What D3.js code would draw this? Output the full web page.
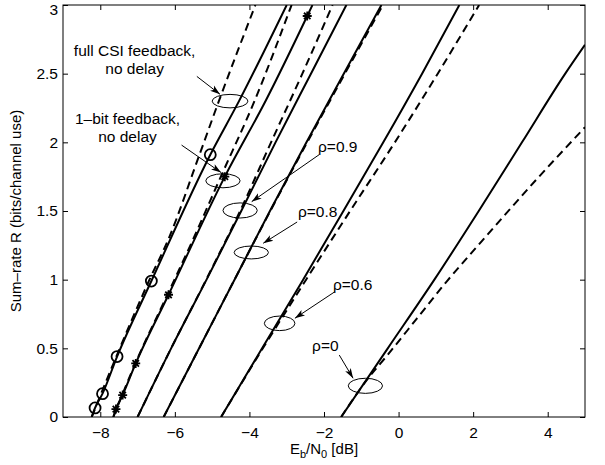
<!DOCTYPE html>
<html>
<head>
<meta charset="utf-8">
<title>Sum-rate vs Eb/N0</title>
<script src="https://cdn.jsdelivr.net/npm/d3@7"></script>
<style>
body {
    margin: 0;
    background-color: #fff;
}
svg text {
    font-family: "Liberation Sans", Arial, Helvetica, sans-serif;
    fill: #000;
}
.curve {
    fill: none;
    stroke: #000;
    stroke-width: 2px;
}
.dash {
    stroke-dasharray: 8, 5;
}
</style>
</head>

<body>
<div id="graphic"></div>
<script>

// curves: [Eb/N0 (dB), sum-rate]
var fullSolid  = [[-8.23,0],[-8.14,0.066],[-7.94,0.17],[-7.55,0.44],[-6.63,0.99],[-5.05,1.91],[-4.28,2.3],[-3.0,3]];
var fullDashed = [[-8.23,0],[-7.57,0.44],[-6.68,1.0],[-6.18,1.29],[-5.34,1.91],[-4.82,2.3],[-3.84,3]];
var bitSolid   = [[-7.65,0],[-7.58,0.058],[-7.40,0.16],[-7.05,0.39],[-6.17,0.89],[-4.66,1.75],[-3.55,2.31],[-2.45,2.92],[-2.31,3]];
var bitDashed  = [[-7.65,0],[-7.06,0.39],[-6.2,0.89],[-5.5,1.3],[-4.8,1.73],[-3.85,2.31],[-2.87,3]];
var r9Solid    = [[-7.0,0],[-6.1,0.5],[-5.15,1.0],[-4.22,1.5],[-3.3,2.0],[-2.35,2.5],[-1.40,3]];
var r9Dashed   = [[-7.0,0],[-6.1,0.5],[-5.16,1.0],[-4.25,1.5],[-3.42,2.0],[-2.58,2.5],[-1.77,3]];
var r8Solid    = [[-6.3,0],[-5.35,0.5],[-4.4,1.0],[-3.45,1.5],[-2.47,2.0],[-1.47,2.5],[-0.46,3]];
var r8Dashed   = [[-6.3,0],[-5.35,0.5],[-4.4,1.0],[-3.44,1.5],[-2.45,2.0],[-1.44,2.5],[-0.42,3]];
var r6Solid    = [[-4.76,0],[-3.66,0.5],[-2.56,1.0],[-1.48,1.5],[-0.41,2.0],[0.63,2.5],[1.63,3]];
var r6Dashed   = [[-4.76,0],[-3.64,0.5],[-2.48,1.0],[-1.3,1.5],[-0.1,2.0],[1.05,2.5],[2.16,3]];
var r0Solid    = [[-1.54,0],[-0.29,0.5],[0.96,1.0],[2.15,1.5],[3.31,2.0],[4.47,2.5],[5,2.71]];
var r0Dashed   = [[-1.54,0],[-0.85,0.27],[-0.3,0.45],[0.5,0.72],[1.3,0.99],[2.07,1.23],[3.7,1.73],[5,2.11]];

// marker points
var circleMarks = [[-8.14,0.066],[-7.94,0.17],[-7.55,0.44],[-6.63,0.99],[-5.05,1.91]];
var starMarks   = [[-7.58,0.058],[-7.40,0.16],[-7.05,0.39],[-6.17,0.89],[-4.66,1.75],[-2.45,2.92]];

var xTicks = [-8, -6, -4, -2, 0, 2, 4];
var yTicks = [0, 0.5, 1, 1.5, 2, 2.5, 3];

var xTitle = ["E", "b", "/N", "0", " [dB]"];
var yTitle = "Sum\u2013rate R (bits/channel use)";

// annotations, in data units
var notes = [
    {lines: ["full CSI feedback,", "no delay"], tx: -7.08, ty: 2.63, anchor: "middle",
     from: [-5.41, 2.48], to: [-4.79, 2.35], ell: [-4.52, 2.30, 0.48, 0.049]},
    {lines: ["1\u2013bit feedback,", "no delay"], tx: -7.27, ty: 2.13, anchor: "middle",
     from: [-5.82, 1.98], to: [-4.76, 1.78], ell: [-4.71, 1.72, 0.46, 0.051]},
    {lines: ["\u03c1=0.9"], tx: -2.16, ty: 1.93, anchor: "start",
     from: [-2.13, 1.91], to: [-3.94, 1.568], ell: [-4.25, 1.504, 0.46, 0.055]},
    {lines: ["\u03c1=0.8"], tx: -2.70, ty: 1.456, anchor: "start",
     from: [-2.72, 1.42], to: [-3.63, 1.265], ell: [-3.95, 1.198, 0.46, 0.047]},
    {lines: ["\u03c1=0.6"], tx: -1.76, ty: 0.925, anchor: "start",
     from: [-1.71, 0.912], to: [-2.78, 0.719], ell: [-3.19, 0.682, 0.41, 0.053]},
    {lines: ["\u03c1=0"], tx: -2.32, ty: 0.48, anchor: "start",
     from: [-1.59, 0.451], to: [-1.22, 0.282], ell: [-0.89, 0.227, 0.46, 0.055]}
];

var w = 605;
var h = 465;
var margin = {top: 5, right: 20, bottom: 48, left: 63};
var iw = w - margin.left - margin.right;
var ih = h - margin.top - margin.bottom;

var svg = d3.select("#graphic")
    .append("svg")
    .attr("width", w)
    .attr("height", h);

var g = svg.append("g")
    .attr("transform", "translate(" + margin.left + "," + margin.top + ")");

var x = d3.scaleLinear().domain([-9, 5]).range([0, iw]);
var y = d3.scaleLinear().domain([0, 3]).range([ih, 0]);

g.append("clipPath")
    .attr("id", "plotclip")
    .append("rect")
    .attr("width", iw)
    .attr("height", ih);

// axes, ticks pointing inward on all four sides
var fmt = d3.format("");
var tickLen = 5;

g.append("g")
    .attr("class", "axis")
    .attr("transform", "translate(0," + ih + ")")
    .call(d3.axisBottom(x).tickValues(xTicks).tickFormat(fmt)
        .tickSizeInner(-tickLen).tickSizeOuter(0).tickPadding(10));

g.append("g")
    .attr("class", "axis")
    .call(d3.axisTop(x).tickValues(xTicks).tickFormat("")
        .tickSizeInner(-tickLen).tickSizeOuter(0));

var yAxis = g.append("g")
    .attr("class", "axis")
    .call(d3.axisLeft(y).tickValues(yTicks).tickFormat(fmt)
        .tickSizeInner(-tickLen).tickSizeOuter(0).tickPadding(5));

g.append("g")
    .attr("class", "axis")
    .attr("transform", "translate(" + iw + ",0)")
    .call(d3.axisRight(y).tickValues(yTicks).tickFormat("")
        .tickSizeInner(-tickLen).tickSizeOuter(0));

g.selectAll(".axis .domain").remove();
g.selectAll(".axis line").attr("stroke", "#000").attr("stroke-width", 1);
g.selectAll(".axis text")
    .style("font-family", "'Liberation Sans', Arial, sans-serif")
    .style("font-size", "15.5px");

// keep the top label inside the window
yAxis.selectAll(".tick text")
    .filter(function(d) { return d == 3; })
    .attr("dy", "0.62em");

g.append("rect")
    .attr("width", iw)
    .attr("height", ih)
    .attr("fill", "none")
    .attr("stroke", "#000")
    .attr("stroke-width", 1);

// curves
var line = d3.line()
    .x(function(d) { return x(d[0]); })
    .y(function(d) { return y(d[1]); })
    .curve(d3.curveMonotoneX);

var series = [
    {pts: fullSolid, dashed: false}, {pts: fullDashed, dashed: true},
    {pts: bitSolid, dashed: false},  {pts: bitDashed, dashed: true},
    {pts: r9Solid, dashed: false},   {pts: r9Dashed, dashed: true},
    {pts: r8Solid, dashed: false},   {pts: r8Dashed, dashed: true},
    {pts: r6Solid, dashed: false},   {pts: r6Dashed, dashed: true},
    {pts: r0Solid, dashed: false},   {pts: r0Dashed, dashed: true}
];

var plot = g.append("g").attr("clip-path", "url(#plotclip)");

plot.selectAll("path.curve")
    .data(series)
    .enter().append("path")
    .attr("class", function(d) { return d.dashed ? "curve dash" : "curve"; })
    .attr("d", function(d) { return line(d.pts); });

plot.selectAll("circle.mark")
    .data(circleMarks)
    .enter().append("circle")
    .attr("class", "mark")
    .attr("cx", function(d) { return x(d[0]); })
    .attr("cy", function(d) { return y(d[1]); })
    .attr("r", 5.5)
    .attr("fill", "none")
    .attr("stroke", "#000")
    .attr("stroke-width", 1.8);

// matlab style '*' marker: a plus and a cross on top of each other
function star(cx, cy, s) {
    var k = s * 0.72;
    return "M" + (cx - s) + "," + cy + "L" + (cx + s) + "," + cy +
        "M" + cx + "," + (cy - s) + "L" + cx + "," + (cy + s) +
        "M" + (cx - k) + "," + (cy - k) + "L" + (cx + k) + "," + (cy + k) +
        "M" + (cx - k) + "," + (cy + k) + "L" + (cx + k) + "," + (cy - k);
}

plot.selectAll("path.star")
    .data(starMarks)
    .enter().append("path")
    .attr("class", "star")
    .attr("d", function(d) { return star(x(d[0]), y(d[1]), 4.5); })
    .attr("stroke", "#000")
    .attr("stroke-width", 1.8);

// annotations
svg.append("defs").append("marker")
    .attr("id", "head")
    .attr("viewBox", "0 0 10 10")
    .attr("refX", 10)
    .attr("refY", 5)
    .attr("markerUnits", "userSpaceOnUse")
    .attr("markerWidth", 10)
    .attr("markerHeight", 10)
    .attr("orient", "auto")
    .append("path")
    .attr("d", "M0,1.8L10,5L0,8.2L2.5,5Z")
    .attr("fill", "#000");

var ann = g.append("g");

ann.selectAll("ellipse")
    .data(notes)
    .enter().append("ellipse")
    .attr("cx", function(d) { return x(d.ell[0]); })
    .attr("cy", function(d) { return y(d.ell[1]); })
    .attr("rx", function(d) { return x(d.ell[0] + d.ell[2]) - x(d.ell[0]); })
    .attr("ry", function(d) { return y(d.ell[1]) - y(d.ell[1] + d.ell[3]); })
    .attr("fill", "none")
    .attr("stroke", "#000")
    .attr("stroke-width", 1);

ann.selectAll("line")
    .data(notes)
    .enter().append("line")
    .attr("x1", function(d) { return x(d.from[0]); })
    .attr("y1", function(d) { return y(d.from[1]); })
    .attr("x2", function(d) { return x(d.to[0]); })
    .attr("y2", function(d) { return y(d.to[1]); })
    .attr("stroke", "#000")
    .attr("stroke-width", 1)
    .attr("marker-end", "url(#head)");

ann.selectAll("text")
    .data(notes)
    .enter().append("text")
    .attr("x", function(d) { return x(d.tx); })
    .attr("y", function(d) { return y(d.ty); })
    .attr("text-anchor", function(d) { return d.anchor; })
    .style("font-size", "15.5px")
    .each(function(d) {
        var t = d3.select(this);
        d.lines.forEach(function(s, i) {
            t.append("tspan")
                .attr("x", x(d.tx))
                .attr("dy", i == 0 ? 0 : 18)
                .text(s);
        });
    });

// axis titles
var xt = g.append("text")
    .attr("x", iw / 2)
    .attr("y", ih + 37)
    .attr("text-anchor", "middle")
    .style("font-size", "15px");
xt.append("tspan").text(xTitle[0]);
xt.append("tspan").attr("dy", 4).style("font-size", "11px").text(xTitle[1]);
xt.append("tspan").attr("dy", -4).text(xTitle[2]);
xt.append("tspan").attr("dy", 4).style("font-size", "11px").text(xTitle[3]);
xt.append("tspan").attr("dy", -4).text(xTitle[4]);

g.append("text")
    .attr("transform", "translate(" + (-42) + "," + (ih / 2) + ") rotate(-90)")
    .attr("text-anchor", "middle")
    .style("font-size", "15px")
    .text(yTitle);

</script>
</body>
</html>
